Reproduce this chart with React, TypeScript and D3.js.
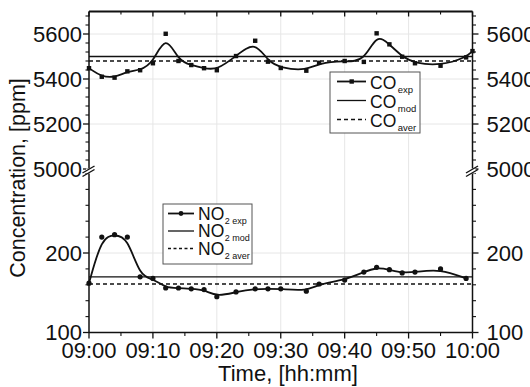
import React from 'react';
import * as d3 from 'd3';

// minutes after 09:00
const coTime = [0, 2, 4, 6, 8, 10, 12, 14, 16, 18, 20, 23, 26, 28, 30, 34, 36, 40, 43, 45, 47, 49, 51, 55, 59, 60];
const coExp = [5448, 5410, 5406, 5434, 5439, 5470, 5601, 5480, 5462, 5448, 5439, 5502, 5570, 5477, 5449, 5437, 5472, 5480, 5476, 5603, 5554, 5499, 5470, 5459, 5496, 5524];
const no2Time = [0, 2, 4, 6, 8, 10, 12, 14, 16, 18, 20, 23, 26, 28, 30, 34, 36, 40, 43, 45, 47, 49, 51, 55, 59];
const no2Exp = [162, 220, 223, 220, 170, 168, 156, 156, 155, 154, 145, 151, 155, 155, 155, 152, 161, 166, 176, 182, 179, 175, 176, 180, 168];
const coMod = 5500;
const coAver = 5480;
const no2Mod = 170;
const no2Aver = 161;

const xMajor = [0, 10, 20, 30, 40, 50, 60];
const xTickLabels = ['09:00', '09:10', '09:20', '09:30', '09:40', '09:50', '10:00'];
const xMinor = [5, 15, 25, 35, 45, 55];
const coMajor = [5000, 5200, 5400, 5600];
const coMinor = [5040, 5080, 5120, 5160, 5240, 5280, 5320, 5360, 5440, 5480, 5520, 5560, 5640, 5680];
const coGrid = [5200, 5400, 5600];
const no2Major = [100, 200];
const no2Minor = [120, 140, 160, 180, 220, 240, 260, 280, 300];
const no2Grid = [200];

const FONT = "'Liberation Sans', Arial, Helvetica, sans-serif";
const INK = '#111';

export default function App() {
  const L = 89, R = 472.5, T = 11.5, B = 332.5;
  const x = d3.scaleLinear().domain([0, 60]).range([L, R]);
  const yCO = d3.scaleLinear().domain([5000, 5700]).range([169, T]);
  const yNO = d3.scaleLinear().domain([100, 300]).range([B, 173.5]);

  const coPts = coTime.map((t, i) => [t, coExp[i]] as [number, number]);
  const noPts = no2Time.map((t, i) => [t, no2Exp[i]] as [number, number]);
  const coLine = d3.line<[number, number]>().x(d => x(d[0])).y(d => yCO(d[1])).curve(d3.curveBasis)(coPts) || '';
  const noLine = d3.line<[number, number]>().x(d => x(d[0])).y(d => yNO(d[1])).curve(d3.curveBasis)(noPts) || '';

  const tickFs = 22;
  const breakY = 171;

  const yTicks = (ax: number, dir: number, labels: boolean) => (
    <g>
      {coMajor.map(v => <line key={'cM' + v} x1={ax} x2={ax + dir * 6} y1={yCO(v)} y2={yCO(v)} stroke={INK} strokeWidth={1.3} />)}
      {coMinor.map(v => <line key={'cm' + v} x1={ax} x2={ax + dir * 3.5} y1={yCO(v)} y2={yCO(v)} stroke={INK} strokeWidth={1.1} />)}
      {no2Major.map(v => <line key={'nM' + v} x1={ax} x2={ax + dir * 6} y1={yNO(v)} y2={yNO(v)} stroke={INK} strokeWidth={1.3} />)}
      {no2Minor.map(v => <line key={'nm' + v} x1={ax} x2={ax + dir * 3.5} y1={yNO(v)} y2={yNO(v)} stroke={INK} strokeWidth={1.1} />)}
      {labels && coMajor.map(v => (
        <text key={'cl' + v} x={dir < 0 ? ax - 7 : ax + 14} y={yCO(v)} dy="0.36em" fontSize={tickFs}
          textAnchor={dir < 0 ? 'end' : 'start'} fill={INK}>{v}</text>
      ))}
      {labels && no2Major.map(v => (
        <text key={'nl' + v} x={dir < 0 ? ax - 7 : ax + 14} y={yNO(v)} dy="0.36em" fontSize={tickFs}
          textAnchor={dir < 0 ? 'end' : 'start'} fill={INK}>{v}</text>
      ))}
      {/* axis break */}
      <rect x={ax - 3} y={breakY - 2.5} width={6} height={5} fill="#fff" />
      <line x1={ax - 6.5} x2={ax + 5.5} y1={breakY + 2} y2={breakY - 5} stroke={INK} strokeWidth={1.4} />
      <line x1={ax - 6.5} x2={ax + 5.5} y1={breakY + 5.5} y2={breakY - 1.5} stroke={INK} strokeWidth={1.4} />
    </g>
  );

  return (
    <svg width={530} height={387} style={{ position: 'absolute', left: 0, top: 0, background: '#fff' }} fontFamily={FONT}>
      <rect width={530} height={387} fill="#fff" />
      {/* grid */}
      {xMajor.slice(1, -1).map(t => <line key={'gx' + t} x1={x(t)} x2={x(t)} y1={T} y2={B} stroke="#e6e6e6" strokeWidth={1} />)}
      {coGrid.map(v => <line key={'gc' + v} x1={L} x2={R} y1={yCO(v)} y2={yCO(v)} stroke="#e6e6e6" strokeWidth={1} />)}
      {no2Grid.map(v => <line key={'gn' + v} x1={L} x2={R} y1={yNO(v)} y2={yNO(v)} stroke="#e6e6e6" strokeWidth={1} />)}

      {/* reference lines */}
      <line x1={L} x2={R} y1={yCO(coMod)} y2={yCO(coMod)} stroke={INK} strokeWidth={1.3} />
      <line x1={L} x2={R} y1={yCO(coAver)} y2={yCO(coAver)} stroke={INK} strokeWidth={1.3} strokeDasharray="4,3" />
      <line x1={L} x2={R} y1={yNO(no2Mod)} y2={yNO(no2Mod)} stroke={INK} strokeWidth={1.3} />
      <line x1={L} x2={R} y1={yNO(no2Aver)} y2={yNO(no2Aver)} stroke={INK} strokeWidth={1.3} strokeDasharray="4,3" />

      {/* experimental curves */}
      <path d={coLine} fill="none" stroke={INK} strokeWidth={1.8} />
      <path d={noLine} fill="none" stroke={INK} strokeWidth={1.8} />
      {coPts.map((d, i) => <rect key={'cp' + i} x={x(d[0]) - 2.2} y={yCO(d[1]) - 2.2} width={4.4} height={4.4} fill={INK} />)}
      {noPts.map((d, i) => <circle key={'np' + i} cx={x(d[0])} cy={yNO(d[1])} r={2.6} fill={INK} />)}

      {/* frame */}
      <line x1={L} x2={R} y1={T} y2={T} stroke={INK} strokeWidth={2} />
      <line x1={L} x2={R} y1={B} y2={B} stroke={INK} strokeWidth={1.5} />
      <line x1={L} x2={L} y1={T} y2={B} stroke={INK} strokeWidth={1.5} />
      <line x1={R} x2={R} y1={T} y2={B} stroke={INK} strokeWidth={1.5} />

      {/* x ticks */}
      {xMajor.map(t => <line key={'xb' + t} x1={x(t)} x2={x(t)} y1={B} y2={B + 6} stroke={INK} strokeWidth={1.3} />)}
      {xMinor.map(t => <line key={'xbm' + t} x1={x(t)} x2={x(t)} y1={B} y2={B + 3.5} stroke={INK} strokeWidth={1.1} />)}
      {xMajor.map(t => <line key={'xt' + t} x1={x(t)} x2={x(t)} y1={T} y2={T + 5} stroke={INK} strokeWidth={1.3} />)}
      {xMinor.map(t => <line key={'xtm' + t} x1={x(t)} x2={x(t)} y1={T} y2={T + 3} stroke={INK} strokeWidth={1.1} />)}
      {xMajor.map((t, i) => (
        <text key={'xl' + t} x={x(t)} y={357.5} fontSize={tickFs} textAnchor="middle" fill={INK}>{xTickLabels[i]}</text>
      ))}

      {yTicks(L, -1, true)}
      {yTicks(R, 1, true)}

      {/* axis titles */}
      <text x={288} y={380.5} fontSize={22} textAnchor="middle" fill={INK}>Time, [hh:mm]</text>
      <text transform="translate(25,178) rotate(-90)" fontSize={21.5} textAnchor="middle" fill={INK}>Concentration, [ppm]</text>

      {/* CO legend */}
      <g>
        <rect x={330} y={72} width={90} height={61} fill="#fff" stroke="#555" strokeWidth={1} />
        <line x1={337} x2={366} y1={81.5} y2={81.5} stroke={INK} strokeWidth={1.8} />
        <rect x={349.5} y={79.3} width={4.4} height={4.4} fill={INK} />
        <line x1={337} x2={366} y1={100.5} y2={100.5} stroke={INK} strokeWidth={1.3} />
        <line x1={337} x2={366} y1={119.5} y2={119.5} stroke={INK} strokeWidth={1.3} strokeDasharray="4,3" />
        <text x={370} y={88.5} fontSize={17.5} fill={INK}>CO<tspan fontSize={9.5} dx={1.5} dy={4}>exp</tspan></text>
        <text x={370} y={107.5} fontSize={17.5} fill={INK}>CO<tspan fontSize={9.5} dx={1.5} dy={4}>mod</tspan></text>
        <text x={370} y={126.5} fontSize={17.5} fill={INK}>CO<tspan fontSize={9.5} dx={1.5} dy={4}>aver</tspan></text>
      </g>

      {/* NO2 legend */}
      <g>
        <rect x={163} y={204} width={89} height={60} fill="#fff" stroke="#555" strokeWidth={1} />
        <line x1={168} x2={194} y1={213.5} y2={213.5} stroke={INK} strokeWidth={1.8} />
        <circle cx={181} cy={213.5} r={2.4} fill={INK} />
        <line x1={168} x2={194} y1={231} y2={231} stroke={INK} strokeWidth={1.3} />
        <line x1={168} x2={194} y1={248.5} y2={248.5} stroke={INK} strokeWidth={1.3} strokeDasharray="3,2.5" />
        <text x={198} y={219.5} fontSize={17.5} fill={INK}>NO<tspan fontSize={9} dx={0.5} dy={4}>2 exp</tspan></text>
        <text x={198} y={237} fontSize={17.5} fill={INK}>NO<tspan fontSize={9} dx={0.5} dy={4}>2 mod</tspan></text>
        <text x={198} y={254.5} fontSize={17.5} fill={INK}>NO<tspan fontSize={9} dx={0.5} dy={4}>2 aver</tspan></text>
      </g>
    </svg>
  );
}
